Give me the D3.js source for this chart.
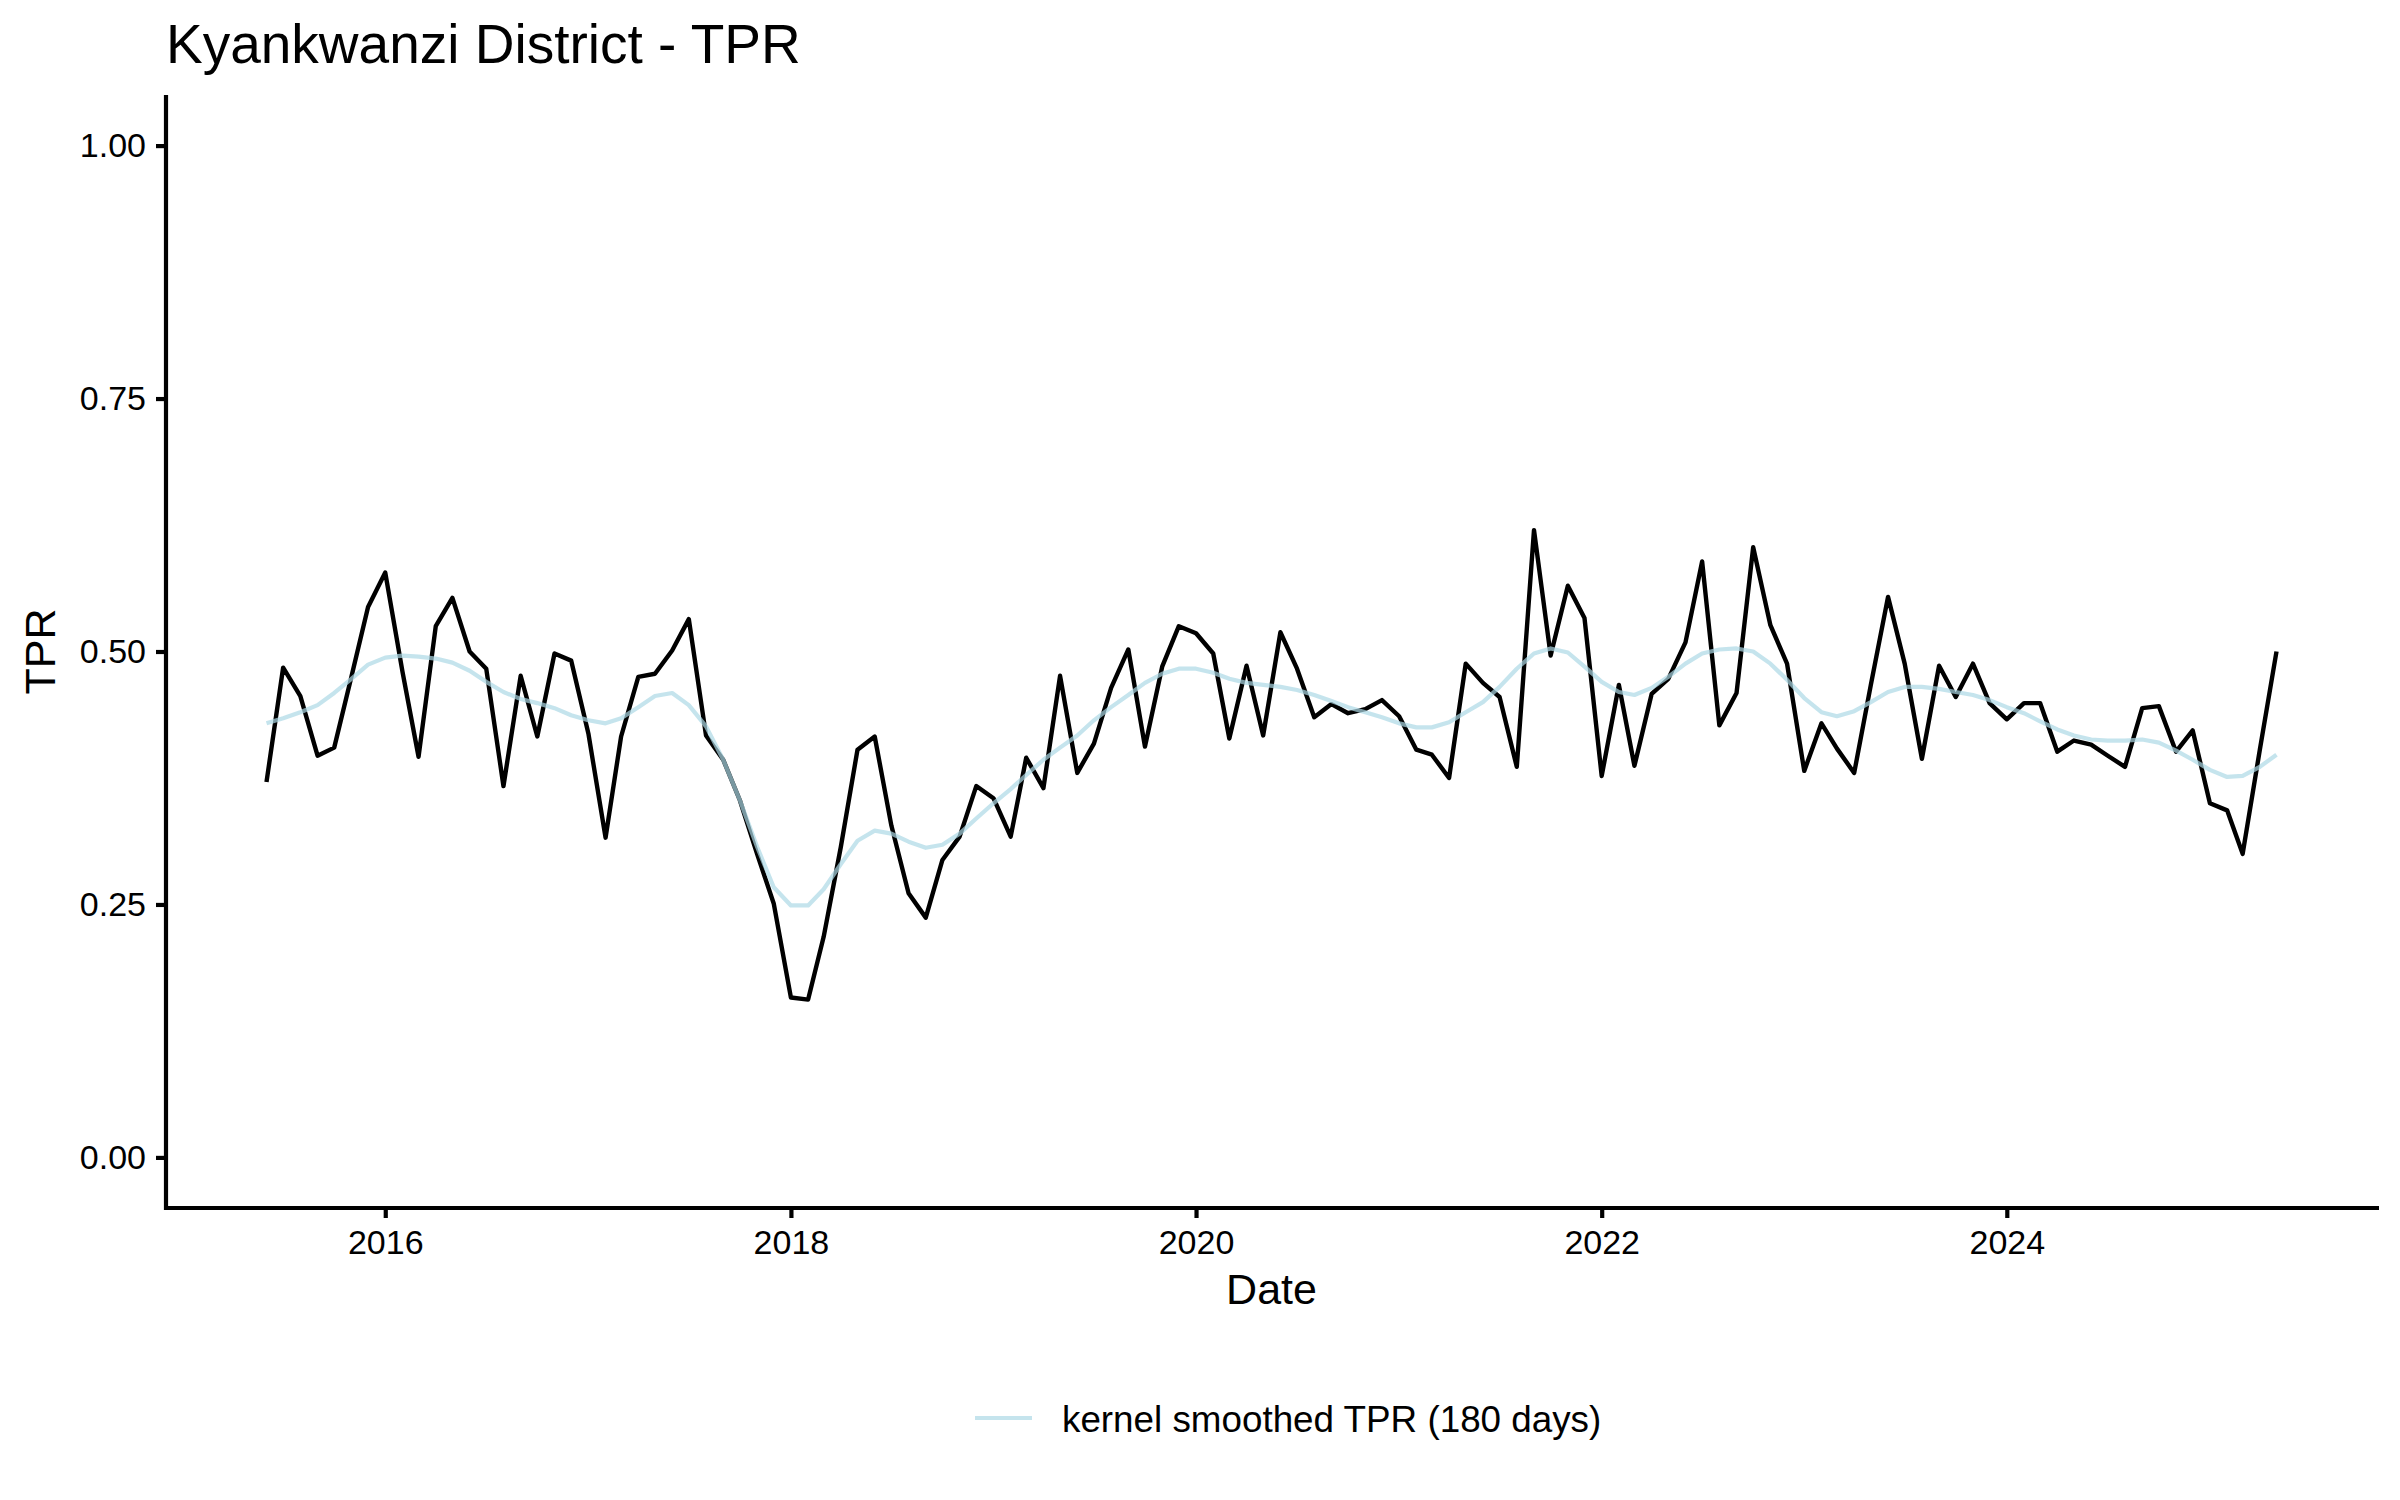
<!DOCTYPE html>
<html>
<head>
<meta charset="utf-8">
<script src="https://cdn.jsdelivr.net/npm/d3@7"></script>
<style>
  body { margin: 0; background: white; }
  text { font-family: "Liberation Sans", Arial, sans-serif; fill: black; }
</style>
</head>
<body>
<div id="chart"></div>
<script>
// DATA
var startMonth = new Date(2015, 5, 1);
var endMonth = new Date(2025, 5, 1);
var months = d3.timeMonth.range(startMonth, endMonth);

var tpr = [
  0.371, 0.484, 0.456, 0.397, 0.405, 0.475, 0.544, 0.578, 0.480, 0.396,
  0.525, 0.553, 0.500, 0.483, 0.367, 0.476, 0.416, 0.498, 0.491, 0.419,
  0.316, 0.416, 0.475, 0.478, 0.501, 0.532, 0.417, 0.393, 0.353, 0.300,
  0.251, 0.158, 0.156, 0.218, 0.307, 0.403, 0.416, 0.328, 0.261, 0.237,
  0.294, 0.317, 0.367, 0.355, 0.317, 0.395, 0.365, 0.476, 0.380, 0.409,
  0.464, 0.502, 0.406, 0.485, 0.525, 0.518, 0.498, 0.414, 0.486, 0.417,
  0.519, 0.483, 0.435, 0.448, 0.439, 0.443, 0.452, 0.436, 0.403, 0.398,
  0.375, 0.488, 0.469, 0.455, 0.386, 0.620, 0.496, 0.565, 0.533, 0.377,
  0.467, 0.387, 0.458, 0.473, 0.509, 0.589, 0.427, 0.459, 0.603, 0.526,
  0.488, 0.382, 0.429, 0.404, 0.380, 0.467, 0.554, 0.488, 0.394, 0.486,
  0.455, 0.488, 0.449, 0.433, 0.449, 0.449, 0.401, 0.412, 0.408, 0.397,
  0.386, 0.444, 0.446, 0.401, 0.422, 0.350, 0.343, 0.300, 0.403, 0.500
];

var smoothTpr = [
  0.429, 0.434, 0.440, 0.447, 0.459, 0.473, 0.487, 0.494, 0.496, 0.495,
  0.493, 0.489, 0.481, 0.470, 0.460, 0.453, 0.449, 0.444, 0.437, 0.432,
  0.429, 0.434, 0.445, 0.456, 0.459, 0.447, 0.426, 0.393, 0.353, 0.307,
  0.267, 0.249, 0.249, 0.265, 0.290, 0.313, 0.323, 0.320, 0.312, 0.306,
  0.309, 0.320, 0.335, 0.350, 0.364, 0.378, 0.393, 0.405, 0.417, 0.432,
  0.445, 0.457, 0.469, 0.478, 0.483, 0.483, 0.479, 0.473, 0.469, 0.467,
  0.465, 0.462, 0.457, 0.451, 0.445, 0.440, 0.435, 0.429, 0.425, 0.425,
  0.430, 0.440, 0.450, 0.465, 0.483, 0.498, 0.503, 0.499, 0.485, 0.470,
  0.460, 0.457, 0.464, 0.475, 0.488, 0.498, 0.502, 0.503, 0.500, 0.488,
  0.472, 0.454, 0.440, 0.436, 0.441, 0.450, 0.460, 0.465, 0.465, 0.463,
  0.460, 0.457, 0.452, 0.445, 0.439, 0.431, 0.423, 0.417, 0.413, 0.412,
  0.412, 0.413, 0.410, 0.402, 0.393, 0.383, 0.376, 0.377, 0.386, 0.398
];

var yTicks = [0, 0.25, 0.5, 0.75, 1];
var xTickYears = [2016, 2018, 2020, 2022, 2024];
var titleText = "Kyankwanzi District - TPR";
var legendLabel = "kernel smoothed TPR (180 days)";

// LAYOUT
var width = 2400, height = 1500;
var plotLeft = 166, plotRight = 2377, plotTop = 95, plotBottom = 1208;

var svg = d3.select("#chart")
            .append("svg")
            .attr("width", width)
            .attr("height", height);

// SCALES
var t0 = months[0].getTime(), t1 = months[months.length - 1].getTime();
var pad = (t1 - t0) * 0.05;
var x = d3.scaleTime()
          .domain([new Date(t0 - pad), new Date(t1 + pad)])
          .range([plotLeft, plotRight]);
var y = d3.scaleLinear()
          .domain([-0.05, 1.05])
          .range([plotBottom, plotTop]);

var rows = months.map(function(d, i) { return { date: d, tpr: tpr[i], smooth: smoothTpr[i] }; });

// LINES
var rawLine = d3.line().x(function(d) { return x(d.date); }).y(function(d) { return y(d.tpr); });
var smoothLine = d3.line().x(function(d) { return x(d.date); }).y(function(d) { return y(d.smooth); });

svg.append("path").datum(rows)
   .attr("d", rawLine)
   .attr("fill", "none")
   .attr("stroke", "black")
   .attr("stroke-width", 4.4)
   .attr("stroke-linejoin", "round");

svg.append("path").datum(rows)
   .attr("d", smoothLine)
   .attr("fill", "none")
   .attr("stroke", "lightblue")
   .attr("stroke-opacity", 0.7)
   .attr("stroke-width", 4.2)
   .attr("stroke-linejoin", "round");

// AXES
var xAxis = d3.axisBottom(x)
              .tickValues(xTickYears.map(function(yr) { return new Date(yr, 0, 1); }))
              .tickFormat(d3.timeFormat("%Y"))
              .tickSize(10)
              .tickPadding(10);
var yAxis = d3.axisLeft(y)
              .tickValues(yTicks)
              .tickFormat(d3.format(".2f"))
              .tickSize(10)
              .tickPadding(10);

var gx = svg.append("g").attr("transform", "translate(0," + plotBottom + ")").call(xAxis);
var gy = svg.append("g").attr("transform", "translate(" + plotLeft + ",0)").call(yAxis);

[gx, gy].forEach(function(g) {
  g.select(".domain").remove();
  g.selectAll(".tick line").attr("stroke", "black").attr("stroke-width", 4.2);
  g.selectAll(".tick text").style("font-size", "34px").style("font-family", "'Liberation Sans', Arial, sans-serif").attr("fill", "black");
});
gx.selectAll(".tick text").attr("dy", "0.75em");

// axis lines
svg.append("line").attr("x1", plotLeft - 1).attr("x2", plotRight + 2).attr("y1", plotBottom).attr("y2", plotBottom)
   .attr("stroke", "black").attr("stroke-width", 4.2);
svg.append("line").attr("x1", plotLeft).attr("x2", plotLeft).attr("y1", plotTop).attr("y2", plotBottom + 2)
   .attr("stroke", "black").attr("stroke-width", 4.2);

// LABELS
svg.append("text").attr("x", plotLeft).attr("y", 63).style("font-size", "55px").text(titleText);
svg.append("text").attr("x", (plotLeft + plotRight) / 2).attr("y", 1304)
   .style("text-anchor", "middle").style("font-size", "43px").text("Date");
svg.append("text").attr("transform", "translate(55," + ((plotTop + plotBottom) / 2) + ") rotate(-90)")
   .style("text-anchor", "middle").style("font-size", "43px").text("TPR");

// LEGEND
svg.append("line").attr("x1", 975).attr("x2", 1032).attr("y1", 1418).attr("y2", 1418)
   .attr("stroke", "lightblue").attr("stroke-opacity", 0.7).attr("stroke-width", 4.2);
svg.append("text").attr("x", 1062).attr("y", 1432).style("font-size", "36.8px").text(legendLabel);
</script>
</body>
</html>
